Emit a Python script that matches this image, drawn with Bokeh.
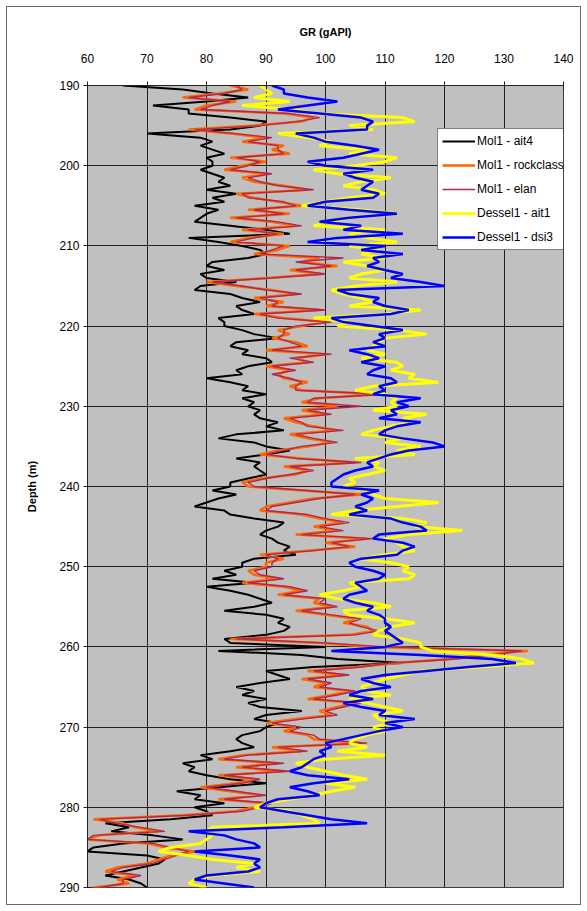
from bokeh.plotting import figure
from bokeh.models import Range1d, Legend, LegendItem, FixedTicker, InlineStyleSheet
from bokeh.embed import file_html
from bokeh.resources import INLINE

# depth grid (m), 0.5 m steps from 190 to 290
depth = [190 + 0.5 * i for i in range(201)]

mol1_ait4 = [
    66, 76, 81, 87, 80, 71, 77, 77, 84, 90, 89, 84, 70, 79, 81, 79, 81, 83, 80, 81,
    81, 79, 81, 83, 82, 84, 80, 85, 81, 83, 78, 82, 80, 79, 78, 84, 90, 94, 77, 82,
    86, 89, 90, 87, 81, 80, 83, 79, 80, 85, 79, 78, 84, 86, 89, 85, 86, 88, 82, 83,
    83, 86, 88, 92, 85, 84, 87, 86, 90, 91, 87, 85, 86, 80, 84, 87, 86, 90, 86, 88,
    87, 89, 88, 89, 92, 90, 93, 85, 82, 88, 90, 94, 90, 85, 89, 88, 89, 90, 87, 84,
    84, 81, 85, 82, 80, 78, 83, 84, 88, 93, 92, 90, 89, 91, 92, 94, 93, 95, 88, 86,
    86, 83, 85, 81, 88, 80, 84, 87, 89, 91, 88, 83, 90, 93, 92, 94, 93, 90, 83, 84,
    100, 82, 96, 102, 113, 98, 90, 92, 94, 89, 85, 88, 86, 90, 87, 89, 96, 90, 88, 92,
    90, 89, 86, 85, 86, 88, 84, 79, 81, 76, 78, 77, 80, 84, 90, 82, 75, 79, 78, 83,
    78, 80, 81, 74, 63, 67, 64, 71, 76, 66, 61, 60, 70, 73, 72, 69, 66, 63, 67, 69, 70,
]

mol1_rockclass = [
    84, 87, 82, 76, 85, 80, 78, 93, 98, 96, 88, 77, 84, 90, 86, 93, 91, 94, 84, 90,
    86, 83, 90, 86, 88, 93, 97, 85, 88, 92, 96, 87, 94, 84, 91, 95, 86, 93, 87, 84,
    94, 92, 88, 99, 96, 102, 94, 99, 90, 80, 85, 91, 95, 88, 93, 90, 99, 88, 93, 100,
    96, 92, 94, 91, 95, 97, 90, 100, 95, 97, 90, 94, 92, 93, 97, 94, 96, 109, 99, 96,
    102, 96, 100, 93, 95, 98, 102, 94, 97, 101, 97, 92, 89, 96, 105, 93, 97, 95, 89, 86,
    87, 96, 106, 98, 94, 90, 89, 96, 99, 103, 98, 102, 95, 107, 100, 105, 97, 89, 93, 90,
    90, 87, 88, 92, 86, 93, 96, 92, 99, 98, 101, 95, 100, 105, 103, 107, 108, 104, 84, 99,
    108, 134, 126, 121, 112, 105, 97, 103, 96, 100, 98, 104, 101, 97, 105, 102, 99, 101, 95, 90,
    95, 93, 97, 98, 106, 91, 96, 86, 82, 92, 85, 93, 82, 88, 85, 79, 84, 89, 82, 90,
    88, 85, 76, 61, 66, 68, 72, 62, 60, 70, 73, 78, 74, 72, 70, 65, 63, 68, 65, 67, 61,
]

mol1_elan = [
    85, 86, 83, 77, 84, 81, 79, 94, 99, 95, 89, 78, 85, 91, 87, 92, 92, 93, 85, 89,
    87, 84, 91, 87, 89, 92, 98, 86, 87, 93, 95, 88, 93, 85, 92, 96, 87, 92, 88, 85,
    93, 91, 89, 103, 95, 101, 95, 100, 91, 81, 86, 90, 96, 89, 92, 91, 100, 89, 92, 101,
    95, 93, 93, 92, 94, 96, 91, 101, 94, 98, 91, 95, 91, 94, 96, 95, 95, 110, 98, 97,
    106, 97, 101, 94, 96, 97, 103, 95, 98, 102, 96, 93, 90, 95, 106, 94, 98, 94, 90, 87,
    88, 97, 105, 99, 95, 91, 90, 97, 100, 104, 99, 103, 96, 108, 101, 104, 98, 90, 92, 91,
    91, 88, 89, 93, 87, 94, 97, 93, 100, 99, 102, 96, 101, 106, 104, 106, 109, 105, 85, 100,
    110, 133, 128, 122, 111, 106, 98, 104, 97, 101, 99, 105, 102, 98, 106, 103, 100, 102, 96, 91,
    96, 94, 98, 99, 107, 92, 97, 87, 83, 93, 86, 94, 83, 89, 86, 80, 85, 90, 83, 91,
    89, 86, 77, 62, 65, 69, 73, 61, 60, 71, 74, 77, 75, 73, 71, 66, 64, 69, 66, 66, 62,
]

dessel1_ait1 = [
    89, 90, 91, 88, 94, 86, 95, 98, 113, 115, 104, 108, 92, 97, 101, 99, 107, 104, 112, 110,
    105, 98, 102, 111, 106, 103, 108, 110, 104, 100, 96, 106, 112, 104, 101, 98, 110, 104, 107, 112,
    104, 109, 106, 110, 103, 107, 110, 106, 104, 112, 105, 101, 103, 106, 108, 104, 116, 110, 98, 104,
    102, 112, 117, 110, 109, 108, 107, 110, 106, 112, 113, 111, 115, 114, 119, 108, 105, 110, 112, 111,
    112, 108, 117, 113, 115, 111, 108, 106, 113, 110, 116, 112, 115, 105, 109, 108, 110, 107, 104, 105,
    103, 107, 108, 110, 119, 112, 105, 101, 113, 117, 115, 123, 114, 110, 112, 113, 115, 110, 106, 111,
    114, 113, 115, 114, 104, 106, 103, 99, 102, 108, 111, 103, 104, 110, 115, 111, 109, 108, 113, 116,
    116, 118, 128, 133, 135, 126, 116, 113, 110, 108, 106, 107, 111, 104, 107, 110, 113, 108, 109, 111,
    108, 110, 107, 105, 104, 107, 102, 110, 100, 95, 97, 100, 103, 107, 100, 105, 101, 98, 94, 90,
    88, 94, 96, 98, 99, 81, 80, 81, 80, 79, 74, 72, 77, 81, 88, 85, 89, 81, 78, 77, 80,
]

dessel1_dsi3 = [
    91, 93, 93, 97, 102, 97, 92, 99, 106, 108, 107, 107, 95, 98, 100, 105, 109, 106, 103, 97,
    100, 108, 103, 105, 108, 107, 106, 109, 108, 100, 97, 104, 112, 104, 99, 106, 103, 113, 102, 97,
    110, 106, 113, 108, 109, 107, 110, 113, 111, 116, 120, 102, 104, 109, 108, 110, 114, 111, 101, 103,
    108, 113, 109, 110, 108, 110, 104, 107, 109, 106, 110, 108, 107, 111, 112, 109, 110, 108, 116, 112,
    114, 111, 112, 109, 116, 112, 110, 109, 113, 118, 120, 114, 111, 109, 107, 108, 105, 103, 102, 101,
    101, 109, 106, 108, 107, 105, 107, 104, 111, 113, 116, 117, 109, 108, 113, 115, 113, 112, 106, 104,
    105, 108, 110, 109, 105, 106, 107, 104, 103, 105, 108, 107, 109, 110, 110, 111, 110, 111, 112, 113,
    110, 101, 116, 128, 132, 124, 117, 110, 106, 108, 111, 106, 104, 108, 103, 106, 110, 109, 115, 110,
    113, 109, 106, 103, 100, 101, 99, 100, 98, 97, 96, 94, 97, 104, 98, 94, 97, 99, 92, 90,
    89, 93, 97, 101, 107, 93, 77, 83, 85, 88, 89, 78, 84, 89, 88, 89, 87, 80, 78, 83, 88,
]

series_names = ["Mol1 - ait4", "Mol1 - rockclass", "Mol1 - elan", "Dessel1 - ait1", "Dessel1 - dsi3"]
gr_ticks = [60, 70, 80, 90, 100, 110, 120, 130, 140]
depth_ticks = [190, 200, 210, 220, 230, 240, 250, 260, 270, 280, 290]

FONT = "Liberation Sans"

p = figure(width=587, height=911, output_backend="svg", toolbar_location=None,
           x_range=Range1d(60, 140), y_range=Range1d(290, 190),
           x_axis_location="above",
           min_border_left=87, min_border_right=24, min_border_top=85, min_border_bottom=24)

# outer chart-area border via CSS on the figure host (canvas margin left transparent)
border_css = (":host { background: white; "
              "box-shadow: inset 0 0 0 6px white, inset 0 0 0 7px #6a6a6a; "
              "outline: 1px solid #6a6a6a; outline-offset: -7px; }")
p.stylesheets = [InlineStyleSheet(css=border_css)]
p.styles = {"background": "white",
            "box-shadow": "inset 0 0 0 6px white, inset 0 0 0 7px #6a6a6a"}

p.background_fill_color = "#C0C0C0"
p.border_fill_color = "white"
p.border_fill_alpha = 0
p.outline_line_color = "#404040"
p.outline_line_width = 1

p.xaxis.ticker = FixedTicker(ticks=gr_ticks)
p.yaxis.ticker = FixedTicker(ticks=depth_ticks)
p.xgrid.ticker = FixedTicker(ticks=gr_ticks)
p.ygrid.ticker = FixedTicker(ticks=depth_ticks)
for g in (p.xgrid, p.ygrid):
    g.grid_line_color = "#202020"
    g.grid_line_width = 1
    g.grid_line_alpha = 1

for ax in (p.xaxis, p.yaxis):
    ax.axis_line_color = "#202020"
    ax.major_tick_line_color = "#202020"
    ax.minor_tick_line_color = None
    ax.major_tick_in = 4
    ax.major_tick_out = 4
    ax.major_label_text_font = FONT
    ax.major_label_text_font_size = "12px"
    ax.major_label_text_color = "black"
    ax.axis_label_text_font = FONT
    ax.axis_label_text_font_size = "11px"
    ax.axis_label_text_font_style = "bold"
    ax.axis_label_text_color = "black"

p.xaxis.axis_label = "GR (gAPI)"
p.xaxis.major_label_standoff = 19
p.xaxis.axis_label_standoff = 13
p.yaxis.axis_label = "Depth (m)"
p.yaxis.major_label_standoff = 4
p.yaxis.axis_label_standoff = 18

r1 = p.line(mol1_ait4, depth, line_color="black", line_width=2)
r2 = p.line(mol1_rockclass, depth, line_color="#FF6600", line_width=2.5)
r3 = p.line(mol1_elan, depth, line_color="#B02850", line_width=1.4)
r4 = p.line(dessel1_ait1, depth, line_color="#FFFF00", line_width=3)
r5 = p.line(dessel1_dsi3, depth, line_color="#0000FF", line_width=2.5)

legend = Legend(items=[LegendItem(label=n, renderers=[r]) for n, r in zip(series_names, [r1, r2, r3, r4, r5])],
                location=(350, 637), orientation="vertical")
legend.background_fill_color = "white"
legend.background_fill_alpha = 1
legend.border_line_color = "black"
legend.border_line_width = 1
legend.label_text_font = FONT
legend.label_text_font_size = "12px"
legend.label_text_color = "black"
legend.glyph_width = 33
legend.glyph_height = 16
legend.label_height = 16
legend.label_standoff = 2
legend.spacing = 8
legend.padding = 4
legend.margin = 0
p.add_layout(legend)

open("out.html", "w").write(file_html(p, INLINE))
